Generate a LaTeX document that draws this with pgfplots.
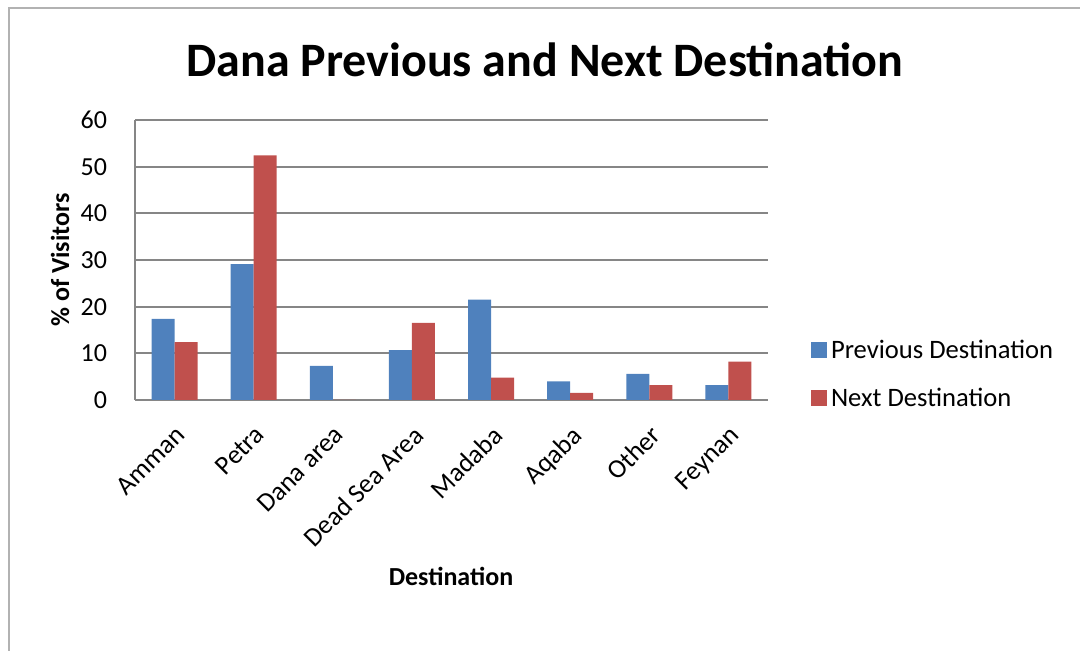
\documentclass[border=0pt]{standalone}
\usepackage{pgfplots}
\pgfplotsset{compat=1.18}
\usepackage{fontspec}
\setmainfont{Carlito}
\definecolor{exblue}{HTML}{4F81BD}
\definecolor{exred}{HTML}{C0504D}
\definecolor{exgrid}{HTML}{868686}
\begin{document}
\begin{tikzpicture}
% page bounds (1px = 0.5pt)
\path[use as bounding box] (0pt,0pt) rectangle (540pt,325.5pt);
\draw[color=black!30, line width=0.7pt] (4.5pt,0pt) -- (4.5pt,321.5pt) -- (540pt,321.5pt);
\node[font=\bfseries\fontsize{24}{28}\selectfont] at (272.5pt,295.5pt) {Dana Previous and Next Destination};
\node[font=\bfseries\fontsize{13}{15}\selectfont, rotate=90] at (30pt,195.5pt) {\% of Visitors};
\node[font=\bfseries\fontsize{13}{15}\selectfont] at (225.5pt,37.5pt) {Destination};
\begin{axis}[
  at={(67.5pt,125.5pt)}, anchor=south west,
  scale only axis, width=316.5pt, height=140pt,
  ybar=0pt, bar width=11.5pt,
  xmin=-0.5, xmax=7.5, ymin=0, ymax=60,
  ytick={0,10,...,60},
  xtick={0,...,7},
  xticklabels={Amman,Petra,Dana area,Dead Sea Area,Madaba,Aqaba,Other,Feynan},
  x tick label style={rotate=45, anchor=north east, font=\fontsize{13.3}{15}\selectfont, xshift=-5pt, yshift=-5pt},
  y tick label style={font=\fontsize{13}{15}\selectfont, xshift=-10.5pt},
  /pgf/number format/assume math mode=true,
  major tick length=0pt,
  axis x line*=bottom, axis y line*=left,
  axis line style={exgrid, line width=1pt},
  ymajorgrids, grid style={exgrid, line width=1pt},
  legend style={at={(1.058,-0.064)}, anchor=south west, draw=none, fill=none,
    font=\fontsize{13.3}{15}\selectfont, row sep=9.5pt, legend cell align=left},
  legend image code/.code={\fill[#1] (0cm,-0.13cm) rectangle (0.28cm,0.15cm);},
]
\addplot[fill=exblue, draw=none] coordinates {(0,17.4) (1,29.1) (2,7.3) (3,10.7) (4,21.5) (5,4.0) (6,5.6) (7,3.2)};
\addplot[fill=exred, draw=none] coordinates {(0,12.4) (1,52.4) (2,0) (3,16.5) (4,4.8) (5,1.5) (6,3.2) (7,8.2)};
\legend{Previous Destination, Next Destination}
\end{axis}
\end{tikzpicture}
\end{document}
